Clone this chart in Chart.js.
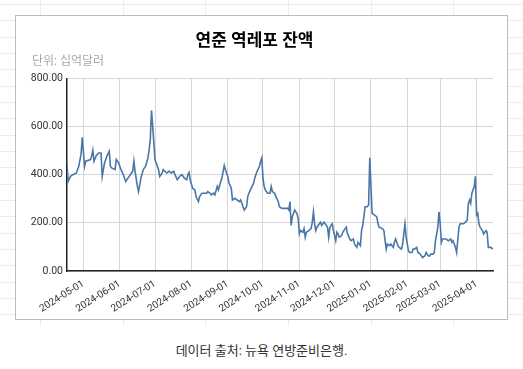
<!DOCTYPE html>
<html lang="ko">
<head>
<meta charset="utf-8">
<title>연준 역레포 잔액</title>
<script src="https://cdn.jsdelivr.net/npm/chart.js@4"></script>
<style>
  html, body { margin: 0; padding: 0; background: #fff; }
  body { width: 523px; height: 369px; position: relative; overflow: hidden;
         font-family: Roboto, "Noto Sans CJK KR", sans-serif; }
  /* faint sheet grid behind the chart box */
  .sheet {
    position: absolute; left: 0; top: 0; width: 523px; height: 326px;
    background-image:
      repeating-linear-gradient(to bottom, transparent 0 4px, #ececec 4px 5px, transparent 5px 16.33px),
      repeating-linear-gradient(to right, transparent 0 40px, #ececec 40px 41px, transparent 41px 82.7px);
  }
  .box {
    position: absolute; left: 15px; top: 15px; width: 491px; height: 303px;
    border: 1px solid #bdbdbd; background: #fff;
  }
  .unit {
    position: absolute; left: 16px; top: 35px; font-size: 12px; color: #a6a6a6;
  }
  .caption {
    position: absolute; left: 0; width: 523px; top: 340px; text-align: center;
    font-size: 13px; color: #333;
  }
</style>
</head>
<body>
<div class="sheet"></div>
<div class="box">
  <canvas id="rrpChart" width="491" height="303"></canvas>
  <div class="unit" id="unit"></div>
</div>
<div class="caption">데이터 출처: 뉴욕 연방준비은행.</div>

<script>
// ================= DATA =================
const chartTitle = "연준 역레포 잔액";
const unitLabel = "단위: 십억달러";

// y ticks (billion dollars)
const yTicks = [0, 200, 400, 600, 800];

// x ticks: first day of each month
const monthTicks = [
  "2024-05-01", "2024-06-01", "2024-07-01", "2024-08-01", "2024-09-01", "2024-10-01",
  "2024-11-01", "2024-12-01", "2025-01-01", "2025-02-01", "2025-03-01", "2025-04-01"
];

// reverse repo balance
const rrpDates = [
  "2024-04-17","2024-04-18","2024-04-20","2024-04-22","2024-04-25","2024-04-27","2024-04-29","2024-04-30",
  "2024-05-02","2024-05-03","2024-05-07","2024-05-08","2024-05-09","2024-05-10","2024-05-12","2024-05-14",
  "2024-05-16","2024-05-17","2024-05-19","2024-05-21","2024-05-23","2024-05-24","2024-05-25","2024-05-28",
  "2024-05-29","2024-05-31","2024-06-02","2024-06-04","2024-06-06","2024-06-09","2024-06-11","2024-06-12",
  "2024-06-13","2024-06-14","2024-06-16","2024-06-17","2024-06-19","2024-06-21","2024-06-23","2024-06-25",
  "2024-06-26","2024-06-27","2024-06-28","2024-06-29","2024-07-01","2024-07-02","2024-07-04","2024-07-05",
  "2024-07-07","2024-07-08","2024-07-11","2024-07-13","2024-07-15","2024-07-17","2024-07-18","2024-07-20",
  "2024-07-22","2024-07-24","2024-07-26","2024-07-28","2024-07-29","2024-07-30","2024-07-31","2024-08-02",
  "2024-08-04","2024-08-05","2024-08-07","2024-08-08","2024-08-10","2024-08-12","2024-08-14","2024-08-15",
  "2024-08-17","2024-08-18","2024-08-20","2024-08-21","2024-08-23","2024-08-24","2024-08-26","2024-08-27",
  "2024-08-29","2024-08-30","2024-09-01","2024-09-02","2024-09-04","2024-09-05","2024-09-07","2024-09-09",
  "2024-09-11","2024-09-12","2024-09-13","2024-09-14","2024-09-15","2024-09-17","2024-09-18","2024-09-19",
  "2024-09-21","2024-09-23","2024-09-24","2024-09-26","2024-09-28","2024-09-29","2024-09-30","2024-10-01",
  "2024-10-02","2024-10-03","2024-10-05","2024-10-07","2024-10-08","2024-10-09","2024-10-11","2024-10-12",
  "2024-10-14","2024-10-15","2024-10-17","2024-10-20","2024-10-22","2024-10-23","2024-10-24","2024-10-25",
  "2024-10-26","2024-10-27","2024-10-28","2024-10-30","2024-10-31","2024-11-01","2024-11-02","2024-11-04",
  "2024-11-05","2024-11-06","2024-11-07","2024-11-09","2024-11-11","2024-11-12","2024-11-13","2024-11-14",
  "2024-11-15","2024-11-16","2024-11-18","2024-11-19","2024-11-20","2024-11-22","2024-11-23","2024-11-25",
  "2024-11-26","2024-11-27","2024-11-29","2024-11-30","2024-12-02","2024-12-03","2024-12-04","2024-12-05",
  "2024-12-07","2024-12-08","2024-12-10","2024-12-11","2024-12-12","2024-12-14","2024-12-15","2024-12-17",
  "2024-12-18","2024-12-20","2024-12-21","2024-12-23","2024-12-24","2024-12-25","2024-12-27","2024-12-29",
  "2024-12-30","2024-12-31","2025-01-02","2025-01-03","2025-01-06","2025-01-07","2025-01-08","2025-01-11",
  "2025-01-12","2025-01-14","2025-01-15","2025-01-17","2025-01-18","2025-01-20","2025-01-21","2025-01-22",
  "2025-01-24","2025-01-25","2025-01-27","2025-01-28","2025-01-30","2025-01-31","2025-02-02","2025-02-03",
  "2025-02-05","2025-02-06","2025-02-07","2025-02-09","2025-02-10","2025-02-12","2025-02-13","2025-02-14",
  "2025-02-16","2025-02-17","2025-02-19","2025-02-20","2025-02-21","2025-02-23","2025-02-24","2025-02-25",
  "2025-02-27","2025-02-28","2025-03-01","2025-03-02","2025-03-03","2025-03-06","2025-03-08","2025-03-10",
  "2025-03-11","2025-03-12","2025-03-14","2025-03-15","2025-03-17","2025-03-18","2025-03-21","2025-03-24",
  "2025-03-25","2025-03-26","2025-03-27","2025-03-28","2025-03-30","2025-03-31","2025-04-01","2025-04-02",
  "2025-04-03","2025-04-04","2025-04-06","2025-04-07","2025-04-09","2025-04-10","2025-04-11","2025-04-13",
  "2025-04-15"
];
const rrpValues = [
  440,372,393,400,407,435,485,555,
  435,456,463,477,502,456,480,490,
  490,393,449,477,497,435,428,421,
  463,449,421,400,372,393,407,414,
  456,414,351,330,386,421,435,470,
  505,547,667,603,463,449,421,393,
  407,421,407,414,407,414,400,379,
  393,400,386,379,400,410,379,344,
  337,309,288,309,323,323,323,330,
  323,316,323,316,351,337,372,386,
  438,421,393,365,344,295,302,295,
  288,295,281,267,253,267,309,323,
  344,365,386,414,435,456,470,386,
  351,337,323,323,351,330,323,309,
  288,267,260,260,260,253,288,189,
  225,239,253,239,218,154,168,161,
  176,140,161,168,176,203,246,196,
  168,182,196,203,189,203,196,182,
  140,182,196,168,126,161,154,140,
  147,161,176,182,154,133,126,133,
  112,98,119,105,168,189,267,267,
  274,470,239,236,225,196,182,175,
  168,91,112,105,112,98,119,133,
  105,98,91,112,196,140,84,77,
  77,91,91,98,77,70,63,56,
  63,77,63,63,70,70,77,126,
  182,246,196,119,133,133,126,133,
  119,126,98,77,182,196,196,210,
  280,295,281,323,351,393,232,239,
  196,182,168,154,168,161,98,98,
  91
];

// axis range (first and last observation)
const xStart = "2024-04-17";
const xEnd = "2025-04-15";

// ================= HELPERS =================
function dayNum(s) {
  const [y, m, d] = s.split("-").map(Number);
  return Date.UTC(y, m - 1, d) / 86400000;
}

function dayLabel(n) {
  return new Date(n * 86400000).toISOString().slice(0, 10);
}

// ================= CHART =================
document.getElementById("unit").textContent = unitLabel;

const points = rrpDates.map((d, i) => ({ x: dayNum(d), y: rrpValues[i] }));

new Chart(document.getElementById("rrpChart"), {
  type: "line",
  data: {
    datasets: [{
      label: chartTitle,
      data: points,
      borderColor: "#4a76a8",
      borderWidth: 1.6,
      pointRadius: 0,
      tension: 0,
      fill: false
    }]
  },
  options: {
    responsive: false,
    animation: false,
    layout: { padding: { left: 0, right: 14, top: 0, bottom: 0 } },
    plugins: {
      legend: { display: false },
      tooltip: { enabled: false },
      title: {
        display: true,
        text: chartTitle,
        color: "#000",
        font: { family: "Roboto, 'Noto Sans CJK KR', sans-serif", size: 17, weight: "bold" },
        padding: { top: 16, bottom: 26 }
      }
    },
    scales: {
      x: {
        type: "linear",
        min: dayNum(xStart),
        max: dayNum(xEnd),
        afterBuildTicks: axis => {
          axis.ticks = monthTicks.map(d => ({ value: dayNum(d) }));
        },
        afterFit: axis => { axis.height = 48; },
        grid: { color: "#d6d6d6", lineWidth: 1, drawTicks: false },
        border: { color: "#222", width: 1.5 },
        ticks: {
          autoSkip: false,
          minRotation: 32,
          maxRotation: 32,
          padding: 7,
          color: "#333",
          font: { family: "Roboto, sans-serif", size: 10 },
          callback: v => dayLabel(v)
        }
      },
      y: {
        min: 0,
        max: 800,
        afterBuildTicks: axis => {
          axis.ticks = yTicks.map(v => ({ value: v }));
        },
        afterFit: axis => { axis.width = 51; },
        grid: { color: "#d6d6d6", lineWidth: 1, drawTicks: false },
        border: { color: "#222", width: 1.5 },
        ticks: {
          padding: 4,
          color: "#333",
          font: { family: "Roboto, sans-serif", size: 10.5 },
          callback: v => v.toFixed(2)
        }
      }
    }
  }
});
</script>
</body>
</html>
